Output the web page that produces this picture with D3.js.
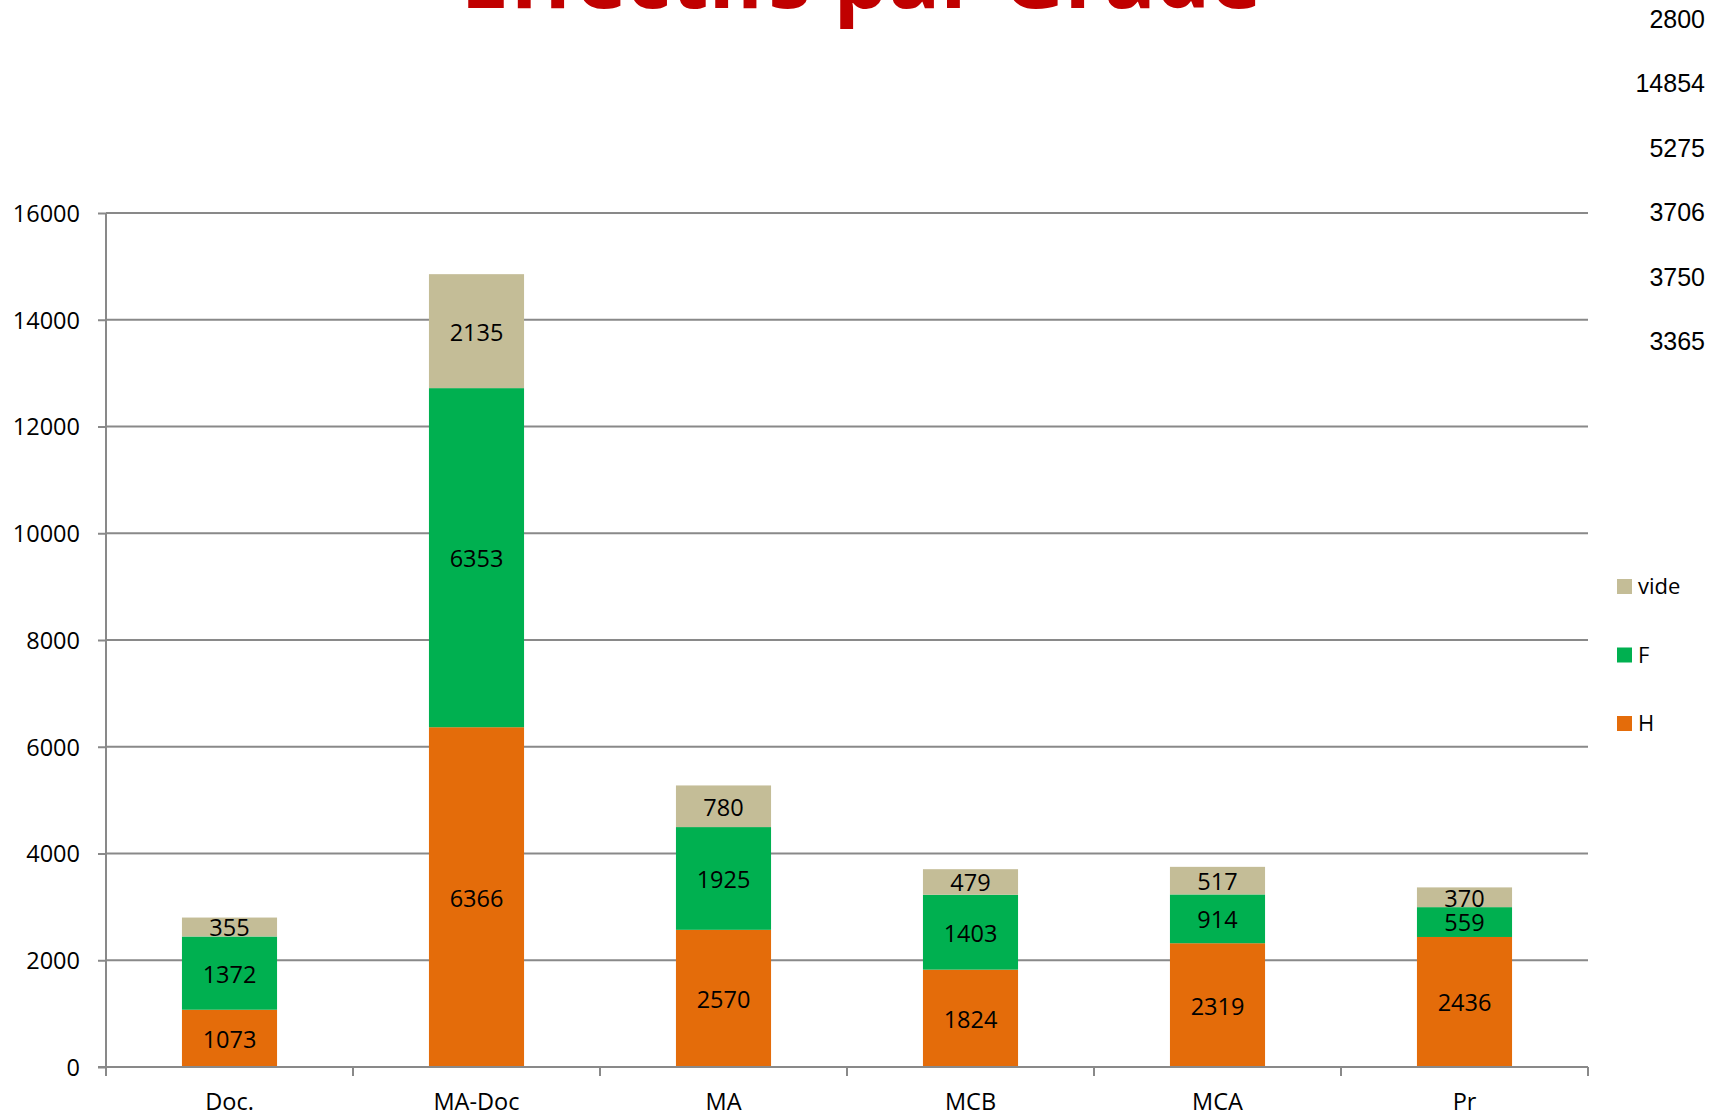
<!DOCTYPE html>
<html>
<head>
<meta charset="utf-8">
<script src="https://cdn.jsdelivr.net/npm/d3@7"></script>
<style>
  html, body { margin: 0; padding: 0; background: #ffffff; }
  svg { display: block; }
</style>
</head>
<body>
<script>
// Staff numbers per grade, split by men (H), women (F) and vacant posts (vide)
const categories = ["Doc.", "MA-Doc", "MA", "MCB", "MCA", "Pr"];
const hValues    = [1073, 6366, 2570, 1824, 2319, 2436];
const fValues    = [1372, 6353, 1925, 1403, 914, 559];
const videValues = [355, 2135, 780, 479, 517, 370];
const totals     = [2800, 14854, 5275, 3706, 3750, 3365];
const yTicks     = [0, 2000, 4000, 6000, 8000, 10000, 12000, 14000, 16000];
const seriesKeys   = ["H", "F", "vide"];
const legendOrder  = ["vide", "F", "H"];
const seriesColors = { H: "#E46C0A", F: "#00B050", vide: "#C4BD97" };
const titleText = "Effectifs par Grade";

const W = 1721, H = 1116;
const plot = { left: 106, right: 1588, top: 213, bottom: 1067 };
const numFont = "'Open Sans', 'Noto Sans', sans-serif";
const axisColor = "#898989";
const labelSize = 23.5;

const rows = categories.map((c, i) => ({ cat: c, H: hValues[i], F: fValues[i], vide: videValues[i] }));
const stacked = d3.stack().keys(seriesKeys)(rows);

const svg = d3.select("body").append("svg").attr("width", W).attr("height", H);

const x = d3.scaleBand().domain(categories)
  .range([plot.left, plot.right])
  .paddingInner(0.615).paddingOuter(0.3075);
const y = d3.scaleLinear().domain([0, 16000]).range([plot.bottom, plot.top]);

// horizontal gridlines
svg.append("g").selectAll("line").data(yTicks.filter(t => t > 0)).join("line")
  .attr("x1", plot.left).attr("x2", plot.right)
  .attr("y1", d => y(d)).attr("y2", d => y(d))
  .attr("stroke", axisColor).attr("stroke-width", 2);

// stacked bars
const layers = svg.append("g").selectAll("g").data(stacked).join("g")
  .attr("fill", d => seriesColors[d.key]);
layers.selectAll("rect").data(d => d).join("rect")
  .attr("x", d => x(d.data.cat))
  .attr("width", x.bandwidth())
  .attr("y", d => y(d[1]))
  .attr("height", d => y(d[0]) - y(d[1]));

// segment value labels
const labels = svg.append("g").attr("font-family", numFont).attr("font-size", labelSize)
  .attr("fill", "#000").attr("text-anchor", "middle");
stacked.forEach(layer => {
  labels.selectAll(null).data(layer).join("text")
    .attr("x", d => x(d.data.cat) + x.bandwidth() / 2)
    .attr("y", d => (y(d[0]) + y(d[1])) / 2)
    .attr("dy", "0.4em")
    .text(d => d.data[layer.key]);
});

// y axis
const yAxis = svg.append("g").attr("transform", `translate(${plot.left},0)`)
  .call(d3.axisLeft(y).tickValues(yTicks).tickSize(8).tickPadding(18).tickFormat(d3.format("d")));
yAxis.select(".domain").attr("stroke", axisColor).attr("stroke-width", 2)
  .attr("d", `M0,${plot.bottom}V${plot.top}`);
yAxis.selectAll(".tick line").attr("stroke", axisColor).attr("stroke-width", 2);
yAxis.selectAll(".tick text").attr("font-family", numFont).attr("font-size", labelSize)
  .attr("fill", "#000").attr("dy", "0.36em");

// x axis baseline with ticks at category boundaries
const xg = svg.append("g");
xg.append("line").attr("x1", plot.left - 8).attr("x2", plot.right)
  .attr("y1", plot.bottom).attr("y2", plot.bottom)
  .attr("stroke", axisColor).attr("stroke-width", 2);
const boundaries = d3.range(categories.length + 1).map(i => plot.left + i * x.step());
xg.selectAll("line.b").data(boundaries).join("line").attr("class", "b")
  .attr("x1", d => d).attr("x2", d => d)
  .attr("y1", plot.bottom).attr("y2", plot.bottom + 9)
  .attr("stroke", axisColor).attr("stroke-width", 2);
xg.selectAll("text").data(categories).join("text")
  .attr("x", d => x(d) + x.bandwidth() / 2)
  .attr("y", 1110)
  .attr("text-anchor", "middle")
  .attr("font-family", numFont).attr("font-size", labelSize).attr("fill", "#000")
  .text(d => d);

// legend
const legend = svg.append("g");
const legendY = d3.scalePoint().domain(legendOrder).range([586.5, 723.5]);
legend.selectAll("rect").data(legendOrder).join("rect")
  .attr("x", 1617).attr("y", d => legendY(d) - 7.5)
  .attr("width", 15).attr("height", 15)
  .attr("fill", d => seriesColors[d]);
legend.selectAll("text").data(legendOrder).join("text")
  .attr("x", 1638).attr("y", d => legendY(d)).attr("dy", "0.36em")
  .attr("font-family", numFont).attr("font-size", 22).attr("fill", "#000")
  .text(d => d);

// column of totals at top right
const totalY = d3.scaleLinear().domain([0, totals.length - 1]).range([28, 350]);
svg.append("g").selectAll("text").data(totals).join("text")
  .attr("x", 1705).attr("y", (d, i) => totalY(i))
  .attr("text-anchor", "end")
  .attr("font-family", "'Liberation Sans', Arial, sans-serif").attr("font-size", 25)
  .attr("fill", "#000")
  .text(d => d);

// title, partly above the top edge
const title = svg.append("text")
  .attr("x", 861).attr("y", 8)
  .attr("text-anchor", "middle")
  .attr("font-family", numFont).attr("font-weight", 700)
  .attr("font-size", 100).attr("fill", "#C00000")
  .text(titleText);
const tw = title.node().getComputedTextLength();
title.attr("font-size", 100 * 801 / tw);
</script>
</body>
</html>
